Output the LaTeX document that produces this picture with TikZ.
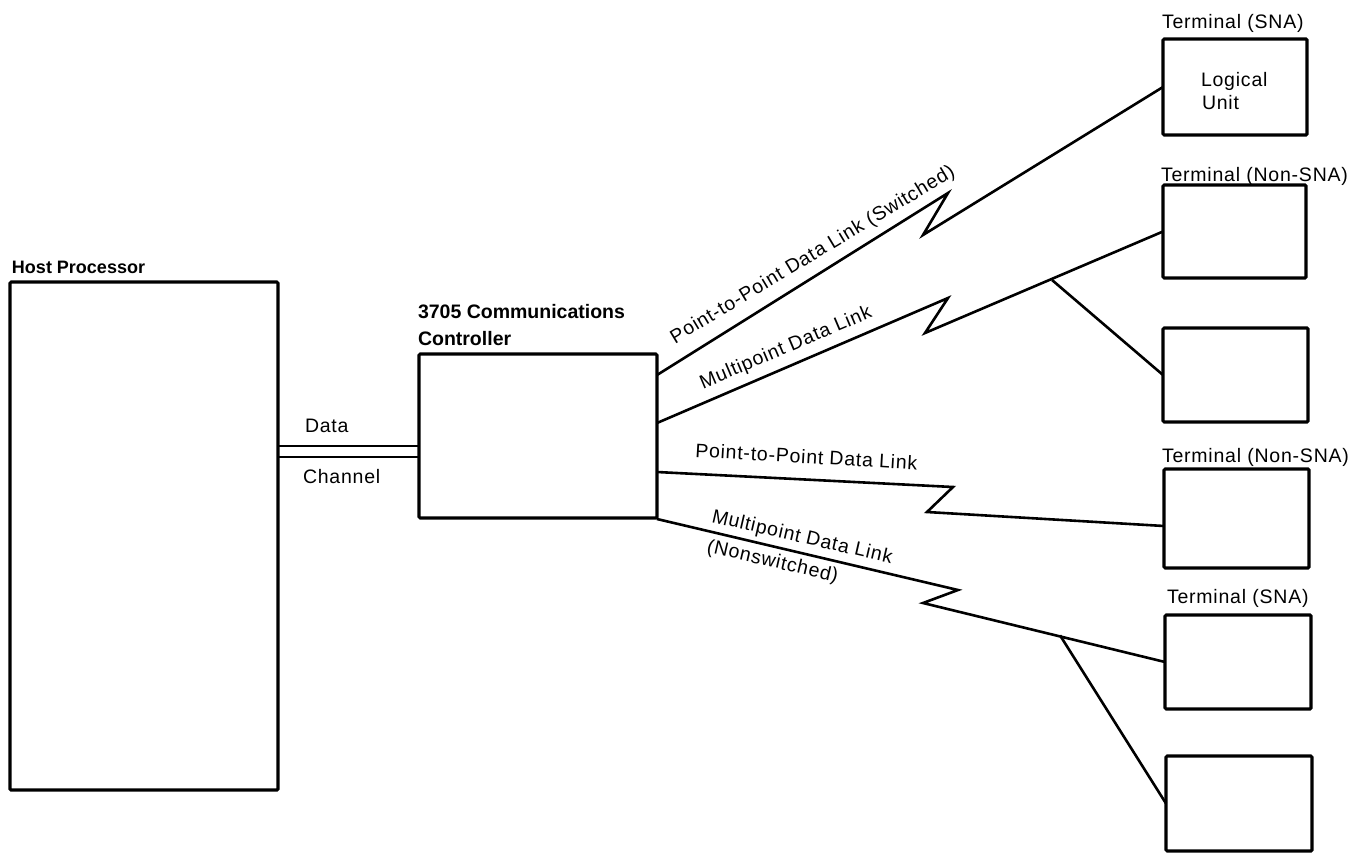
\documentclass[tikz,border=0pt]{standalone}
\usepackage{fontspec}
\setmainfont{Liberation Sans}
\newfontfamily\trackfont[LetterSpace=4]{Liberation Sans}
\usetikzlibrary{calc}
\tikzset{
  box/.style={draw, line width=3.1pt, rounded corners=1.2pt, inner sep=0pt, outer sep=0pt},
  link/.style={line width=2.6pt, line join=miter},
  chan/.style={line width=2.3pt},
  lbl/.style={inner sep=0pt, outer sep=0pt, font=\trackfont\fontsize{19.5}{23}\selectfont},
  head/.style={inner sep=0pt, outer sep=0pt, font=\bfseries\fontsize{19.5}{23}\selectfont},
}
\begin{document}
\begin{tikzpicture}[x=1pt,y=-1pt]
\useasboundingbox (0,0) rectangle (1364,854);
% boxes
\node[box, minimum width=268, minimum height=508] (host) at (144,536) {};
\node[box, minimum width=238, minimum height=164] (ctrl) at (538,436) {};
\node[box, minimum width=144, minimum height=96] (t1) at (1235,87) {};
\node[box, minimum width=143, minimum height=93] (t2) at (1234.5,231.5) {};
\node[box, minimum width=145, minimum height=94] (t3) at (1235.5,375) {};
\node[box, minimum width=145, minimum height=99] (t4) at (1236.5,518.5) {};
\node[box, minimum width=146, minimum height=94] (t5) at (1238,662) {};
\node[box, minimum width=146, minimum height=95] (t6) at (1239,803.5) {};
% headings
\node[head, anchor=base west, font=\bfseries\fontsize{18}{22}\selectfont] (hostlbl) at (12,273) {Host Processor};
\node[head, anchor=base west] (ctrllbl1) at (418,318) {3705 Communications};
\node[head, anchor=base west] (ctrllbl2) at (418,345) {Controller};
\node[lbl, anchor=base west] (term1) at (1162,28) {Terminal (SNA)};
\node[lbl, anchor=base west] (term2) at (1161,181) {Terminal (Non-SNA)};
\node[lbl, anchor=base west] (term4) at (1162,462) {Terminal (Non-SNA)};
\node[lbl, anchor=base west] (term5) at (1167,603) {Terminal (SNA)};
\node[lbl, anchor=base west] (lu1) at (1201,86) {Logical};
\node[lbl, anchor=base west] (lu2) at (1202,109) {Unit};
% data channel
\coordinate (dch1) at (0,446);
\coordinate (dch2) at (0,457);
\draw[chan] (host.east |- dch1) -- (ctrl.west |- dch1);
\draw[chan] (host.east |- dch2) -- (ctrl.west |- dch2);
\node[lbl, anchor=base west] (datalbl) at (305,432) {Data};
\node[lbl, anchor=base west] (chanlbl) at (303,483) {Channel};
% zigzag points
\coordinate (z1a) at (948,193);
\coordinate (z1b) at (923,235);
\coordinate (z2a) at (948,298);
\coordinate (z2b) at (925,333);
\coordinate (b2) at (1052,280);
\coordinate (z3a) at (953,487);
\coordinate (z3b) at (927,512);
\coordinate (z4a) at (958,590);
\coordinate (z4b) at (923,603);
\coordinate (b4) at (1060,635.3);
% links
\draw[link] ($(ctrl.north east)+(0,21)$) -- (z1a) -- (z1b) -- (t1.west);
\draw[link] ($(ctrl.north east)+(0,69)$) -- (z2a) -- (z2b) -- (t2.west);
\draw[link] (b2) -- (t3.west);
\draw[link] ($(ctrl.north east)+(0,118)$) -- (z3a) -- (z3b) -- ($(t4.west)+(0,7.5)$);
\draw[link] ($(ctrl.north east)+(0,165)$) -- (z4a) -- (z4b) -- (t5.west);
\draw[link] (b4) -- (t6.west);
% link labels
\node[lbl, anchor=base west, rotate=31] (l1lbl) at (675,344) {Point-to-Point Data Link (Switched)};
\node[lbl, anchor=base west, rotate=23] (l2lbl) at (703,389) {Multipoint Data Link};
\node[lbl, anchor=base west, rotate=-3.3] (l3lbl) at (695,457) {Point-to-Point Data Link};
\node[lbl, anchor=base west, rotate=-13] (l4lbl) at (711,522) {Multipoint Data Link};
\node[lbl, anchor=base west, rotate=-13] (l4lblb) at (706,552) {(Nonswitched)};
\end{tikzpicture}
\end{document}
